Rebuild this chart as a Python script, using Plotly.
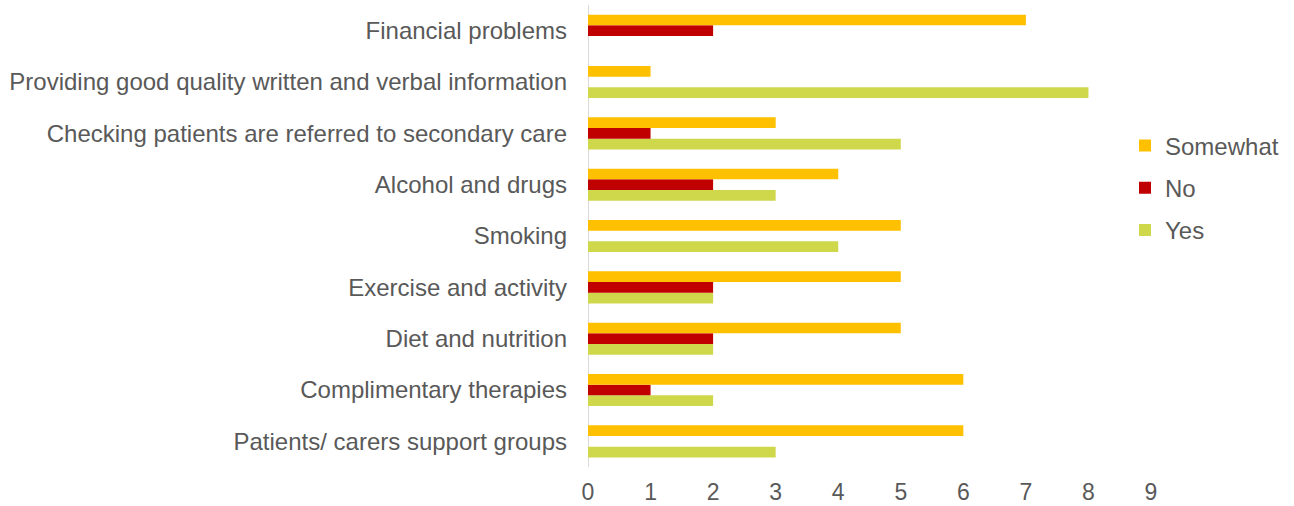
import plotly.graph_objects as go

categories = [
    "Financial problems",
    "Providing good quality written and verbal information",
    "Checking patients are referred to secondary care",
    "Alcohol and drugs",
    "Smoking",
    "Exercise and activity",
    "Diet and nutrition",
    "Complimentary therapies",
    "Patients/ carers support groups",
]
somewhat = [7, 1, 3, 4, 5, 5, 5, 6, 6]
no = [2, 0, 1, 2, 0, 2, 2, 1, 0]
yes = [0, 8, 5, 3, 4, 2, 2, 2, 3]

FONT = "Liberation Sans, Arial, sans-serif"
TXT = "#595959"

fig = go.Figure()
fig.add_trace(go.Bar(y=categories, x=yes, name="Yes", orientation="h", legendgroup="y",
                     legendrank=3, marker=dict(color="#CFD74B", line=dict(width=0))))
fig.add_trace(go.Bar(y=categories, x=no, name="No", orientation="h", legendgroup="n",
                     legendrank=2, marker=dict(color="#C00000", line=dict(width=0))))
fig.add_trace(go.Bar(y=categories, x=somewhat, name="Somewhat", orientation="h", legendgroup="s",
                     legendrank=1, marker=dict(color="#FFC000", line=dict(width=0))))

fig.update_layout(
    width=1294, height=506,
    margin=dict(l=588, r=143, t=5, b=39, autoexpand=False),
    paper_bgcolor="white", plot_bgcolor="white",
    barmode="group", bargap=0.375, bargroupgap=0,
    font=dict(family=FONT, size=24, color=TXT),
    showlegend=True,
    legend=dict(traceorder="grouped", xref="container", yref="container",
                x=1125/1294, y=1 - 188/506, xanchor="left", yanchor="middle",
                font=dict(size=24, color=TXT), itemwidth=30,
                tracegroupgap=8, bgcolor="rgba(0,0,0,0)"),
    xaxis=dict(range=[0, 9], dtick=1, tick0=0, showgrid=False, zeroline=False,
               showline=False, ticks="", ticklabelstandoff=9,
               tickfont=dict(size=23, color=TXT)),
    yaxis=dict(categoryorder="array", categoryarray=categories[::-1],
               showgrid=False, zeroline=False, showline=False, ticks="",
               ticklabelstandoff=20, tickfont=dict(size=24, color=TXT)),
)
fig.add_shape(type="line", xref="x", yref="paper", x0=0, x1=0, y0=0, y1=1,
              line=dict(color="#D9D9D9", width=2), layer="below")

fig.write_html("out.html")
